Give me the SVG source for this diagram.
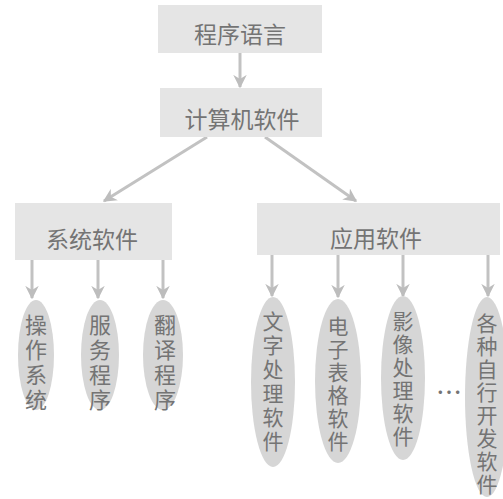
<svg xmlns="http://www.w3.org/2000/svg" width="503" height="499" viewBox="0 0 503 499">
<defs>
<marker id="ah" viewBox="0 0 10 10" refX="9" refY="5" markerWidth="4.5" markerHeight="4.5" orient="auto" markerUnits="strokeWidth">
<path d="M0,0 L10,5 L0,10 L3,5 Z" fill="#bdbdbd"/>
</marker>
</defs>
<style>
.box{fill:#e5e5e5;}
.ell{fill:#d6d6d6;}
.t{font-family:"Noto Sans CJK SC","Noto Sans",sans-serif;fill:#747474;font-size:23px;text-anchor:middle;dominant-baseline:central;}
.v{font-size:21px;}
.w{font-size:22px;}
.c{stroke:#c2c2c2;stroke-width:3;fill:none;marker-end:url(#ah);}
</style>
<rect width="503" height="499" fill="#ffffff"/>
<g id="connectors">
<line class="c" x1="240" y1="53" x2="240" y2="87"/>
<line class="c" x1="207" y1="137" x2="104" y2="201"/>
<line class="c" x1="265" y1="137" x2="356" y2="201"/>
<line class="c" x1="32" y1="260" x2="32" y2="298"/>
<line class="c" x1="98" y1="260" x2="98" y2="298"/>
<line class="c" x1="163" y1="260" x2="163" y2="298"/>
<line class="c" x1="272" y1="255" x2="272" y2="296"/>
<line class="c" x1="338" y1="255" x2="338" y2="297"/>
<line class="c" x1="403" y1="255" x2="403" y2="296"/>
<line class="c" x1="488" y1="255" x2="488" y2="296"/>
</g>
<g id="n-lang">
<rect class="box" x="158" y="5" width="164" height="48"/>
<text class="t" x="240" y="33">程序语言</text>
</g>
<g id="n-software">
<rect class="box" x="160" y="88" width="162" height="49"/>
<text class="t" x="242" y="118">计算机软件</text>
</g>
<g id="n-system">
<rect class="box" x="15" y="203" width="157" height="57"/>
<text class="t" x="92" y="238">系统软件</text>
</g>
<g id="n-app">
<rect class="box" x="257" y="203" width="243" height="52"/>
<text class="t" x="376" y="237">应用软件</text>
</g>
<g id="n-os">
<ellipse class="ell" cx="36" cy="355" rx="18" ry="55"/>
<text class="t w"><tspan x="36" y="323">操</tspan><tspan x="36" y="348">作</tspan><tspan x="36" y="373">系</tspan><tspan x="36" y="398">统</tspan></text>
</g>
<g id="n-service">
<ellipse class="ell" cx="100" cy="355" rx="19" ry="55"/>
<text class="t w"><tspan x="100" y="323">服</tspan><tspan x="100" y="348">务</tspan><tspan x="100" y="373">程</tspan><tspan x="100" y="398">序</tspan></text>
</g>
<g id="n-translate">
<ellipse class="ell" cx="163" cy="355" rx="20" ry="55"/>
<text class="t w"><tspan x="165" y="323">翻</tspan><tspan x="165" y="348">译</tspan><tspan x="165" y="373">程</tspan><tspan x="165" y="398">序</tspan></text>
</g>
<g id="n-word">
<ellipse class="ell" cx="273" cy="382" rx="22" ry="85"/>
<text class="t v"><tspan x="273" y="320">文</tspan><tspan x="273" y="344">字</tspan><tspan x="273" y="368">处</tspan><tspan x="273" y="392">理</tspan><tspan x="273" y="416">软</tspan><tspan x="273" y="440">件</tspan></text>
</g>
<g id="n-sheet">
<ellipse class="ell" cx="338" cy="381" rx="23" ry="82"/>
<text class="t v"><tspan x="338" y="325">电</tspan><tspan x="338" y="348">子</tspan><tspan x="338" y="371">表</tspan><tspan x="338" y="394">格</tspan><tspan x="338" y="417">软</tspan><tspan x="338" y="440">件</tspan></text>
</g>
<g id="n-image">
<ellipse class="ell" cx="403" cy="378" rx="22" ry="82"/>
<text class="t v"><tspan x="403" y="320">影</tspan><tspan x="403" y="343">像</tspan><tspan x="403" y="366">处</tspan><tspan x="403" y="389">理</tspan><tspan x="403" y="412">软</tspan><tspan x="403" y="435">件</tspan></text>
</g>
<g id="n-dots">
<text class="t" x="449" y="390" style="font-size:26px">…</text>
</g>
<g id="n-custom">
<ellipse class="ell" cx="487" cy="397" rx="22" ry="100"/>
<text class="t v"><tspan x="487" y="322">各</tspan><tspan x="487" y="345">种</tspan><tspan x="487" y="368">自</tspan><tspan x="487" y="391">行</tspan><tspan x="487" y="414">开</tspan><tspan x="487" y="437">发</tspan><tspan x="487" y="460">软</tspan><tspan x="487" y="483">件</tspan></text>
</g>
</svg>
